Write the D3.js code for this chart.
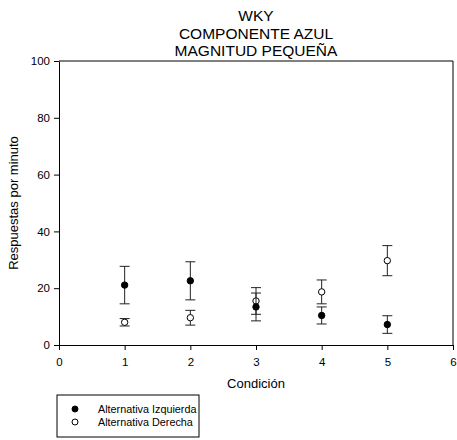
<!DOCTYPE html>
<html>
<head>
<meta charset="utf-8">
<script src="https://cdn.jsdelivr.net/npm/d3@7"></script>
<style>
  body { margin: 0; background: #fff; }
  svg { font-family: "Liberation Sans", Arial, sans-serif; }
</style>
</head>
<body>
<div id="chart"></div>
<script>
// data
const titleLines = ["WKY", "COMPONENTE AZUL", "MAGNITUD PEQUEÑA"];
const condicion = [1, 2, 3, 4, 5];
const izquierda = [21.1, 22.6, 13.4, 10.4, 7.2];
const izquierdaErr = [6.6, 6.7, 4.9, 3.0, 3.1];
const derecha = [8.0, 9.6, 15.5, 18.7, 29.7];
const derechaErr = [1.3, 2.6, 4.7, 4.2, 5.3];
const xTicks = [0, 1, 2, 3, 4, 5, 6];
const yTicks = [0, 20, 40, 60, 80, 100];
const seriesNames = ["Alternativa Izquierda", "Alternativa Derecha"];

const W = 457, H = 440;
const margin = { top: 61, right: 4, bottom: 95, left: 59 };
const width = W - margin.left - margin.right;
const height = H - margin.top - margin.bottom;

const svg = d3.select("#chart")
  .append("svg")
  .attr("width", W)
  .attr("height", H);

const g = svg.append("g")
  .attr("transform", `translate(${margin.left},${margin.top})`);

// scales
const x = d3.scaleLinear().domain([0, 6]).range([0, width]);
const y = d3.scaleLinear().domain([0, 100]).range([height, 0]);

// frame (top + right)
g.append("line")
  .attr("x1", 0).attr("x2", width).attr("y1", 0).attr("y2", 0)
  .attr("stroke", "#000").attr("stroke-width", 1);
g.append("line")
  .attr("x1", width).attr("x2", width).attr("y1", 0).attr("y2", height)
  .attr("stroke", "#000").attr("stroke-width", 1);

// axes
const xAxis = g.append("g")
  .attr("transform", `translate(0,${height})`)
  .call(d3.axisBottom(x).tickValues(xTicks).tickFormat(d3.format("d"))
    .tickSize(5).tickPadding(8).tickSizeOuter(0));
const yAxis = g.append("g")
  .call(d3.axisLeft(y).tickValues(yTicks).tickFormat(d3.format("d"))
    .tickSize(5).tickPadding(4).tickSizeOuter(0));

[xAxis, yAxis].forEach(a => {
  a.selectAll("text").style("font-size", "11.5px").attr("fill", "#000")
    .style("font-family", "'Liberation Sans', Arial, sans-serif");
  a.selectAll("line, path").attr("stroke", "#000");
});

// error bars + points
function drawSeries(vals, errs, filled) {
  const rows = condicion.map((c, i) => ({ c, v: vals[i], e: errs[i] }));
  const eb = g.append("g").attr("stroke", "#222").attr("stroke-width", 1);
  eb.selectAll(".v").data(rows).join("line")
    .attr("x1", d => x(d.c)).attr("x2", d => x(d.c))
    .attr("y1", d => y(d.v + d.e)).attr("y2", d => y(d.v - d.e));
  eb.selectAll(".t").data(rows).join("line")
    .attr("x1", d => x(d.c) - 5).attr("x2", d => x(d.c) + 5)
    .attr("y1", d => y(d.v + d.e)).attr("y2", d => y(d.v + d.e));
  eb.selectAll(".b").data(rows).join("line")
    .attr("x1", d => x(d.c) - 5).attr("x2", d => x(d.c) + 5)
    .attr("y1", d => y(d.v - d.e)).attr("y2", d => y(d.v - d.e));
  g.append("g").selectAll("circle").data(rows).join("circle")
    .attr("cx", d => x(d.c)).attr("cy", d => y(d.v))
    .attr("r", 3.2)
    .attr("fill", filled ? "#000" : "#fff")
    .attr("stroke", "#000").attr("stroke-width", 1);
}
drawSeries(derecha, derechaErr, false);
drawSeries(izquierda, izquierdaErr, true);

// title
svg.append("g").selectAll("text").data(titleLines).join("text")
  .attr("x", margin.left + width / 2)
  .attr("y", (d, i) => 21 + i * 17.5)
  .attr("text-anchor", "middle")
  .style("font-size", "15.5px")
  .text(d => d);

// axis labels
svg.append("text")
  .attr("x", margin.left + width / 2)
  .attr("y", 388)
  .attr("text-anchor", "middle")
  .style("font-size", "13px")
  .text("Condición");

svg.append("text")
  .attr("transform", `translate(18,${margin.top + height / 2}) rotate(-90)`)
  .attr("text-anchor", "middle")
  .style("font-size", "13px")
  .text("Respuestas por minuto");

// legend
const legend = svg.append("g").attr("transform", "translate(57,395)");
legend.append("rect")
  .attr("x", 0).attr("y", 0).attr("width", 142).attr("height", 42)
  .attr("fill", "none").attr("stroke", "#000").attr("stroke-width", 1);
const items = legend.selectAll(".item").data(seriesNames).join("g")
  .attr("transform", (d, i) => `translate(0,${14 + i * 13})`);
items.append("circle")
  .attr("cx", 18).attr("cy", 0).attr("r", 3)
  .attr("fill", (d, i) => i === 0 ? "#000" : "#fff")
  .attr("stroke", "#000");
items.append("text")
  .attr("x", 41).attr("y", 3.8)
  .style("font-size", "10.8px")
  .text(d => d);
</script>
</body>
</html>
